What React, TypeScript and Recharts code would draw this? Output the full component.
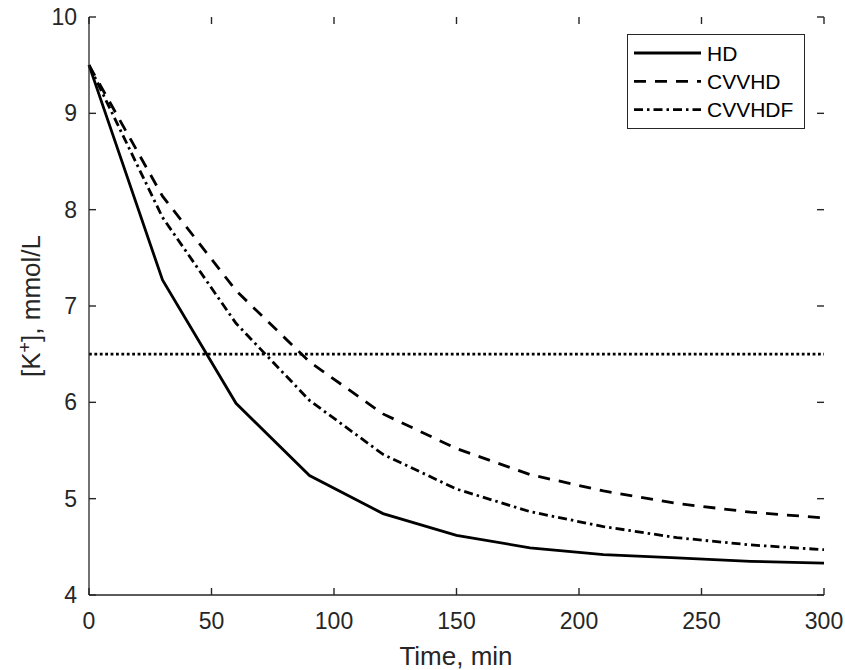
import React from 'react';
import { LineChart, Line, XAxis, YAxis, ReferenceLine, Legend } from 'recharts';

const times = [0, 30, 60, 90, 120, 150, 180, 210, 240, 270, 300];
const hdValues = [9.5, 7.27, 5.99, 5.24, 4.845, 4.62, 4.49, 4.42, 4.385, 4.35, 4.33];
const cvvhdValues = [9.5, 8.14, 7.16, 6.42, 5.88, 5.52, 5.25, 5.08, 4.95, 4.86, 4.8];
const cvvhdfValues = [9.5, 7.92, 6.82, 6.02, 5.46, 5.1, 4.865, 4.71, 4.595, 4.52, 4.47];
const seriesNames = ['HD', 'CVVHD', 'CVVHDF'];
const xTicks = [0, 50, 100, 150, 200, 250, 300];
const yTicks = [4, 5, 6, 7, 8, 9, 10];
const thresholdValue = 6.5;

const data = times.map((t, i) => ({
  t,
  HD: hdValues[i],
  CVVHD: cvvhdValues[i],
  CVVHDF: cvvhdfValues[i],
}));

const FONT = 'Liberation Sans, Arial, Helvetica, sans-serif';
const AXIS_COLOR = '#262626';
const TICK_LEN = 7;
const LINE_W = 2.8;
const seriesStyles: Record<string, { dash?: string }> = {
  HD: {},
  CVVHD: { dash: '12 9' },
  CVVHDF: { dash: '9 4 2.5 4' },
};

const axisLineStyle = { stroke: AXIS_COLOR, strokeWidth: 1.3 };

const XTickBottom = (props: any) => {
  const { x, y, payload } = props;
  return (
    <text x={x} y={Number(y) + 34} textAnchor="middle" fill={AXIS_COLOR} fontSize={23} fontFamily={FONT}>
      {payload.value}
    </text>
  );
};

const YTickLeft = (props: any) => {
  const { x, y, payload } = props;
  return (
    <text x={Number(x) - 12} y={Number(y) + 8} textAnchor="end" fill={AXIS_COLOR} fontSize={23} fontFamily={FONT}>
      {payload.value}
    </text>
  );
};

// inward tick marks at both ends of a vertical reference line (x ticks, bottom & top)
const VTickShape = (props: any) => {
  const { x1, y1, y2 } = props;
  const top = Math.min(Number(y1), Number(y2));
  const bottom = Math.max(Number(y1), Number(y2));
  return (
    <g>
      <path d={`M${x1},${bottom}V${bottom - TICK_LEN}`} stroke={AXIS_COLOR} strokeWidth={1.4} fill="none" />
      <path d={`M${x1},${top}V${top + TICK_LEN}`} stroke={AXIS_COLOR} strokeWidth={1.4} fill="none" />
    </g>
  );
};

// inward tick marks at both ends of a horizontal reference line (y ticks, left & right)
const HTickShape = (props: any) => {
  const { x1, x2, y1 } = props;
  const left = Math.min(Number(x1), Number(x2));
  const right = Math.max(Number(x1), Number(x2));
  return (
    <g>
      <path d={`M${left},${y1}H${left + TICK_LEN}`} stroke={AXIS_COLOR} strokeWidth={1.4} fill="none" />
      <path d={`M${right},${y1}H${right - TICK_LEN}`} stroke={AXIS_COLOR} strokeWidth={1.4} fill="none" />
    </g>
  );
};

const renderLegend = () => (
  <div
    style={{
      width: 178,
      height: 95,
      border: `1px solid ${AXIS_COLOR}`,
      background: '#fff',
      boxSizing: 'border-box',
    }}
  >
    <svg width={176} height={93} style={{ display: 'block' }}>
      {seriesNames.map((name, i) => {
        const cy = 18 + i * 28.3;
        return (
          <g key={name}>
            <line x1={6} y1={cy} x2={73} y2={cy} stroke="#000" strokeWidth={LINE_W} strokeDasharray={seriesStyles[name].dash} />
            <text x={79} y={cy + 7.5} fontSize={21} fontFamily={FONT} fill="#000">
              {name}
            </text>
          </g>
        );
      })}
    </svg>
  </div>
);

export default function App() {
  return (
    <div style={{ position: 'absolute', left: 0, top: 0, width: 845, height: 670, background: '#fff' }}>
      <LineChart width={845} height={670} data={data} margin={{ top: 17, right: 21, bottom: 0, left: 0 }}>
        <XAxis
          dataKey="t"
          type="number"
          domain={[0, 300]}
          ticks={xTicks}
          height={75}
          tickSize={0}
          tickMargin={0}
          tickLine={false}
          axisLine={axisLineStyle}
          tick={<XTickBottom />}
          interval={0}
          label={{
            content: () => (
              <text x={456} y={665} textAnchor="middle" fill={AXIS_COLOR} fontSize={26} fontFamily={FONT}>
                Time, min
              </text>
            ),
          }}
        />
        <XAxis xAxisId="top" orientation="top" dataKey="t" type="number" domain={[0, 300]} height={0} tickLine={false} axisLine={axisLineStyle} tick={false} />
        <YAxis
          type="number"
          domain={[4, 10]}
          ticks={yTicks}
          width={89}
          tickSize={0}
          tickMargin={0}
          tickLine={false}
          axisLine={axisLineStyle}
          tick={<YTickLeft />}
          interval={0}
          label={{
            content: () => (
              <text transform="translate(40,306) rotate(-90)" textAnchor="middle" fill={AXIS_COLOR} fontSize={26} fontFamily={FONT}>
                [K
                <tspan dy={-9} fontSize={18}>+</tspan>
                <tspan dy={9}>], mmol/L</tspan>
              </text>
            ),
          }}
        />
        <YAxis yAxisId="right" orientation="right" type="number" domain={[4, 10]} width={0} tickLine={false} axisLine={axisLineStyle} tick={false} />
        {xTicks.map((v) => (
          <ReferenceLine key={`xt-${v}`} x={v} shape={<VTickShape />} ifOverflow="visible" />
        ))}
        {yTicks.map((v) => (
          <ReferenceLine key={`yt-${v}`} y={v} shape={<HTickShape />} ifOverflow="visible" />
        ))}
        <ReferenceLine y={thresholdValue} stroke="#000" strokeWidth={LINE_W} strokeDasharray="2.8 2.6" />
        {seriesNames.map((name) => (
          <Line key={name} dataKey={name} name={name} type="linear" stroke="#000" strokeWidth={LINE_W} strokeDasharray={seriesStyles[name].dash} dot={false} activeDot={false} isAnimationActive={false} />
        ))}
        <Legend layout="vertical" align="center" verticalAlign="middle" wrapperStyle={{ left: 627, top: 34, width: 178, height: 95 }} content={renderLegend} />
      </LineChart>
    </div>
  );
}
